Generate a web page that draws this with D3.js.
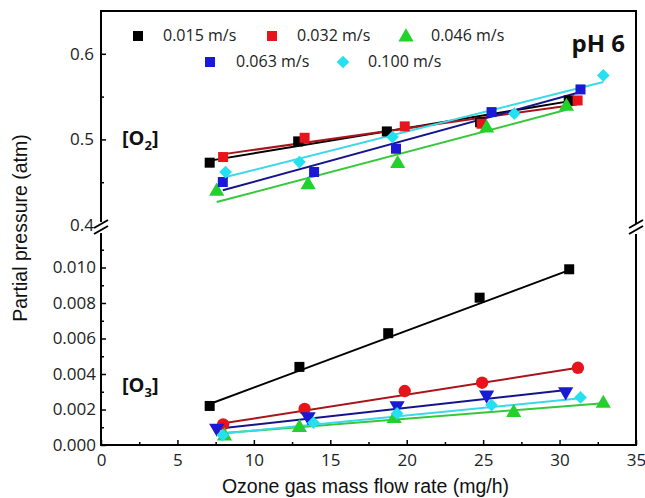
<!DOCTYPE html>
<html>
<head>
<meta charset="utf-8">
<script src="https://cdn.jsdelivr.net/npm/d3@7"></script>
<style>
  body { margin: 0; background: #fff; }
  svg { display: block; }
</style>
</head>
<body>
<svg width="645" height="498"></svg>
<script>
var LEFT = 101;
var RIGHT = 636;
var TOP = 11;
var BOTTOM = 445;
var UPPER_BOTTOM = 225;
var LOWER_TOP = 232;

var xTicks = [0, 5, 10, 15, 20, 25, 30, 35];
var o2Ticks = [0.4, 0.5, 0.6];
var o3Ticks = [0, 0.002, 0.004, 0.006, 0.008, 0.010];

var seriesNames = ['0.015 m/s', '0.032 m/s', '0.046 m/s', '0.063 m/s', '0.100 m/s'];
var seriesColors = ['#000000', '#e8141c', '#22d12a', '#1a1ad6', '#25e0f0'];
var lineColors = ['#000000', '#a8141a', '#36c83a', '#14148c', '#3ad8e8'];
var o2Symbols = ['square', 'square', 'triangle', 'square', 'diamond'];
var o3Symbols = ['square', 'circle', 'triangle', 'down', 'diamond'];

// upper panel, O2 partial pressure
var o2X = [
  [7.11, 12.9, 18.7, 24.8, 30.6],
  [7.99, 13.32, 19.87, 24.9, 31.18],
  [7.57, 13.55, 19.41, 25.23, 30.45],
  [7.97, 13.94, 19.3, 25.55, 31.37],
  [8.15, 12.98, 19.07, 27.04, 32.86]
];
var o2Y = [
  [0.4728, 0.4977, 0.5093, 0.520, 0.5455],
  [0.4794, 0.5019, 0.5152, 0.5183, 0.5455],
  [0.4405, 0.4482, 0.4728, 0.5144, 0.5397],
  [0.4502, 0.4619, 0.4891, 0.5319, 0.5584],
  [0.4619, 0.4735, 0.5027, 0.530, 0.5747]
];
// fit lines: x0, y0, x1, y1
var o2Fit = [
  [7.23, 0.4755, 30.68, 0.5447],
  [7.92, 0.4825, 31.14, 0.5409],
  [7.57, 0.4268, 30.45, 0.5346],
  [7.97, 0.4405, 31.37, 0.5553],
  [8.15, 0.456, 32.86, 0.567]
];

// lower panel, O3 partial pressure
var o3X = [
  [7.11, 12.98, 18.79, 24.77, 30.63],
  [7.99, 13.32, 19.87, 24.93, 31.2],
  [8.08, 12.98, 19.18, 27.0, 32.86],
  [7.57, 13.55, 19.37, 25.23, 30.4],
  [7.97, 13.9, 19.37, 25.55, 31.37]
];
var o3Y = [
  [0.0022, 0.0044, 0.0063, 0.0083, 0.0099],
  [0.00116, 0.00203, 0.00304, 0.00351, 0.00435],
  [0.00056, 0.00103, 0.00154, 0.00188, 0.0024],
  [0.0009, 0.00154, 0.00216, 0.00276, 0.00295],
  [0.00056, 0.00126, 0.00178, 0.00225, 0.00268]
];
var o3Fit = [
  [7.11, 0.00231, 30.63, 0.00985],
  [7.99, 0.00122, 31.2, 0.00435],
  [7.8, 0.00066, 32.86, 0.00235],
  [7.46, 0.0009, 30.45, 0.0031],
  [7.69, 0.00062, 31.37, 0.00263]
];

var svg = d3.select('svg');

var x = d3.scaleLinear().domain([0, 35]).range([LEFT, RIGHT]);
var yO2 = d3.scaleLinear().domain([0.4, 0.65]).range([UPPER_BOTTOM, TOP]);
var yO3 = d3.scaleLinear().domain([0, 0.012]).range([BOTTOM, LOWER_TOP]);

var symbolTypes = {
  square: d3.symbolSquare,
  circle: d3.symbolCircle,
  triangle: d3.symbolTriangle,
  down: d3.symbolTriangle,
  diamond: d3.symbolSquare
};
var symbolSizes = { square: 100, circle: 120, triangle: 100, down: 100, diamond: 81 };

function marker(g, type, px, py, color) {
  var path = d3.symbol().type(symbolTypes[type]).size(symbolSizes[type]);
  var rot = '';
  if (type === 'down') rot = ' rotate(180)';
  if (type === 'diamond') rot = ' rotate(45)';
  var dy = type === 'triangle' ? 1 : (type === 'down' ? -1 : 0);
  g.append('path')
    .attr('d', path())
    .attr('transform', 'translate(' + px + ',' + (py + dy) + ')' + rot)
    .attr('fill', color);
}

function drawPanel(xs, ys, fits, symbols, yScale) {
  var g = svg.append('g');
  for (var i = 0; i < xs.length; i += 1) {
    var f = fits[i];
    g.append('line')
      .attr('x1', x(f[0])).attr('y1', yScale(f[1]))
      .attr('x2', x(f[2])).attr('y2', yScale(f[3]))
      .attr('stroke', lineColors[i])
      .attr('stroke-width', 2);
  }
  for (var i = 0; i < xs.length; i += 1) {
    for (var j = 0; j < xs[i].length; j += 1) {
      marker(g, symbols[i], x(xs[i][j]), yScale(ys[i][j]), seriesColors[i]);
    }
  }
}

drawPanel(o2X, o2Y, o2Fit, o2Symbols, yO2);
drawPanel(o3X, o3Y, o3Fit, o3Symbols, yO3);

// axes
var tickFont = '17px "Open Sans", sans-serif';

var xAxis = d3.axisBottom(x)
  .tickValues(d3.range(0, 35.1, 2.5))
  .tickSize(-5)
  .tickFormat(function (d) { return xTicks.indexOf(d) >= 0 ? d : ''; });
var gx = svg.append('g').attr('transform', 'translate(0,' + BOTTOM + ')').call(xAxis);
gx.selectAll('.tick line')
  .attr('y2', function (d) { return xTicks.indexOf(d) >= 0 ? -5 : -3; });
gx.selectAll('.tick text').attr('y', 9).attr('dy', '0.71em');

var o2Axis = d3.axisLeft(yO2)
  .tickValues([0.4, 0.45, 0.5, 0.55, 0.6])
  .tickSize(-5)
  .tickFormat(function (d) { return o2Ticks.indexOf(d) >= 0 ? d3.format('.1f')(d) : ''; });
var gy1 = svg.append('g').attr('transform', 'translate(' + LEFT + ',0)').call(o2Axis);
gy1.selectAll('.tick line')
  .attr('x2', function (d) { return o2Ticks.indexOf(d) >= 0 ? 5 : 3; });
gy1.selectAll('.tick text').attr('x', -7);

var o3Axis = d3.axisLeft(yO3)
  .tickValues(d3.range(0, 0.0115, 0.001))
  .tickSize(-5)
  .tickFormat(function (d, i) { return i % 2 === 0 ? d3.format('.3f')(d) : ''; });
var gy2 = svg.append('g').attr('transform', 'translate(' + LEFT + ',0)').call(o3Axis);
gy2.selectAll('.tick line')
  .attr('x2', function (d, i) { return i % 2 === 0 ? 5 : 3; });
gy2.selectAll('.tick text').attr('x', -5);

svg.selectAll('.domain').remove();
svg.selectAll('.tick line').attr('stroke', '#000').attr('stroke-width', 1.5);
svg.selectAll('.tick text')
  .style('font', tickFont)
  .attr('fill', '#222');
gy1.selectAll('.tick').filter(function (d) { return d === 0.4; })
  .select('line').remove();

// frame with the axis break
var frame = svg.append('g')
  .attr('fill', 'none')
  .attr('stroke', '#000')
  .attr('stroke-width', 2);
frame.append('path')
  .attr('d', 'M' + LEFT + ',' + (UPPER_BOTTOM - 3) + 'V' + TOP + 'H' + RIGHT + 'V' + (UPPER_BOTTOM - 1));
frame.append('path')
  .attr('d', 'M' + LEFT + ',' + (LOWER_TOP + 1) + 'V' + BOTTOM + 'H' + RIGHT + 'V' + (LOWER_TOP + 2));

[LEFT, RIGHT].forEach(function (bx) {
  [UPPER_BOTTOM - 1, UPPER_BOTTOM + 5].forEach(function (by) {
    frame.append('line')
      .attr('x1', bx - 7).attr('y1', by + 4)
      .attr('x2', bx + 7).attr('y2', by - 4);
  });
});

// legend
var legendRows = [
  { i: 0, mx: 138, tx: 163, y: 36 },
  { i: 1, mx: 272, tx: 297, y: 36 },
  { i: 2, mx: 406, tx: 431, y: 36 },
  { i: 3, mx: 210, tx: 236, y: 62 },
  { i: 4, mx: 343, tx: 368, y: 62 }
];
legendRows.forEach(function (r) {
  marker(svg, o2Symbols[r.i], r.mx, r.y, seriesColors[r.i]);
  svg.append('text')
    .attr('x', r.tx).attr('y', r.y + 5)
    .style('font', '16px "Open Sans", sans-serif')
    .attr('fill', '#222')
    .text(seriesNames[r.i]);
});

svg.append('text')
  .attr('x', 625).attr('y', 52)
  .attr('text-anchor', 'end')
  .style('font', 'bold 24px "Open Sans", sans-serif')
  .attr('fill', '#111')
  .text('pH 6');

// species labels
function species(label, sub, px, py) {
  var t = svg.append('text')
    .attr('x', px).attr('y', py)
    .style('font', 'bold 20px "Open Sans", sans-serif')
    .attr('fill', '#111');
  t.append('tspan').text('[' + label);
  t.append('tspan').attr('dy', 5).style('font-size', '13px').text(sub);
  t.append('tspan').attr('dy', -5).text(']');
}
species('O', '2', 122, 145);
species('O', '3', 122, 392);

// axis titles
svg.append('text')
  .attr('x', (LEFT + RIGHT) / 2 - 3).attr('y', 493)
  .attr('text-anchor', 'middle')
  .style('font', '19.5px "Liberation Sans", Arial, sans-serif')
  .attr('fill', '#111')
  .text('Ozone gas mass flow rate (mg/h)');

svg.append('text')
  .attr('transform', 'translate(27,' + 228 + ') rotate(-90)')
  .attr('text-anchor', 'middle')
  .style('font', '19.5px "Liberation Sans", Arial, sans-serif')
  .attr('fill', '#111')
  .text('Partial pressure (atm)');
</script>
</body>
</html>
